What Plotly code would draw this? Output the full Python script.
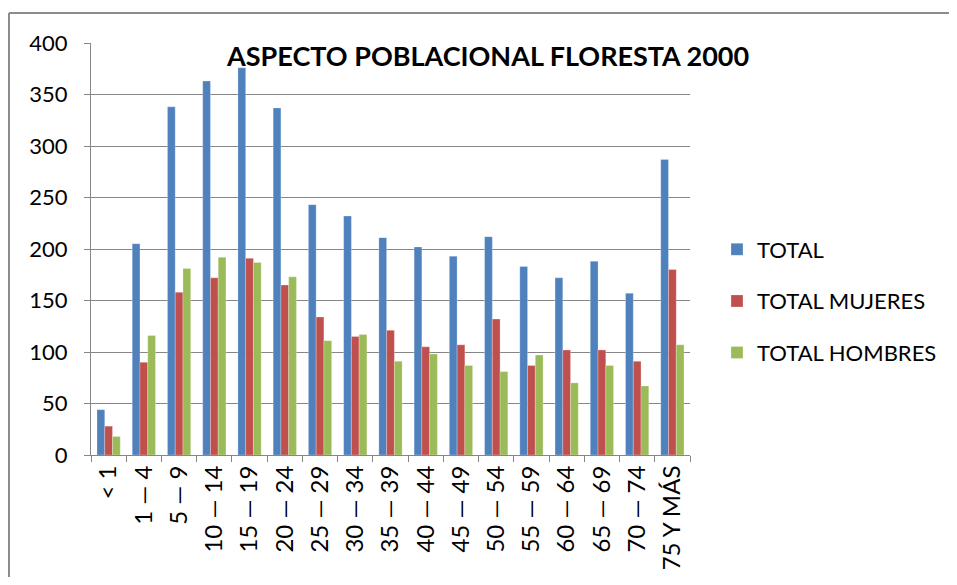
import plotly.graph_objects as go

categories = ["< 1", "1 — 4", "5 — 9", "10 — 14", "15 — 19", "20 — 24", "25 — 29",
              "30 — 34", "35 — 39", "40 — 44", "45 — 49", "50 — 54", "55 — 59",
              "60 — 64", "65 — 69", "70 — 74", "75 Y MÁS"]
total = [44, 205, 338, 363, 376, 337, 243, 232, 211, 202, 193, 212, 183, 172, 188, 157, 287]
mujeres = [28, 90, 158, 172, 191, 165, 134, 115, 121, 105, 107, 132, 87, 102, 102, 91, 180]
hombres = [18, 116, 181, 192, 187, 173, 111, 117, 91, 98, 87, 81, 97, 70, 87, 67, 107]
y_ticks = [0, 50, 100, 150, 200, 250, 300, 350, 400]

FONT = "Lato"
OFF = 8  # page body margin
W, H = 957 - 2 * OFF, 585 - 2 * OFF
L, T = 91 - OFF, 43 - OFF
R = W - (690 - OFF)
B = H - (455 - OFF)
pw, ph = W - L - R, H - T - B


def px(x):
    return (x - OFF - L) / pw


def py(y):
    return ((455 - OFF) - (y - OFF)) / ph


fig = go.Figure()
series = [("TOTAL", total, "#4F81BD"), ("TOTAL MUJERES", mujeres, "#C0504D"),
          ("TOTAL HOMBRES", hombres, "#9BBB59")]
for name, vals, col in series:
    fig.add_trace(go.Bar(x=categories, y=vals, name=name, legendgroup=name,
                         marker=dict(color=col, line=dict(color="rgba(255,255,255,0.5)", width=0.5))))

frame = dict(color="#8C8C8C", width=2)
fig.update_layout(
    width=W, height=H,
    margin=dict(l=L, r=R, t=T, b=B, autoexpand=False),
    paper_bgcolor="white", plot_bgcolor="white",
    barmode="group", bargap=0.34, bargroupgap=0,
    font=dict(family=FONT, size=20, color="black"),
    showlegend=True,
    legend=dict(x=px(733 - 16), xanchor="left", y=py(301), yanchor="middle",
                font=dict(family=FONT, size=22, color="black"),
                tracegroupgap=20, itemwidth=30, bgcolor="rgba(0,0,0,0)"),
    annotations=[dict(text="<b>ASPECTO POBLACIONAL FLORESTA 2000</b>", xref="paper", yref="paper",
                      x=px(487), y=py(56), xanchor="center", yanchor="middle",
                      showarrow=False, font=dict(family=FONT, size=27, color="black"))],
    shapes=[
        dict(type="line", xref="paper", yref="paper", x0=px(9), x1=px(957),
             y0=py(13), y1=py(13), line=frame, layer="below"),
        dict(type="line", xref="paper", yref="paper", x0=px(9), x1=px(9),
             y0=py(13), y1=py(585), line=frame, layer="below"),
    ],
)
fig.update_xaxes(type="category", tickangle=-90, showgrid=False, showline=True,
                 linecolor="#868686", linewidth=1, ticks="outside", tickson="boundaries",
                 ticklen=6, tickcolor="#868686", tickfont=dict(family=FONT, size=24))
fig.update_yaxes(range=[0, 400], tickvals=y_ticks, showgrid=True, gridcolor="#868686",
                 gridwidth=1, showline=True, linecolor="#868686", ticks="outside",
                 ticklen=6, tickcolor="#868686", zeroline=False, ticklabelstandoff=12,
                 tickfont=dict(family=FONT, size=22))

fig.write_html("out.html")
